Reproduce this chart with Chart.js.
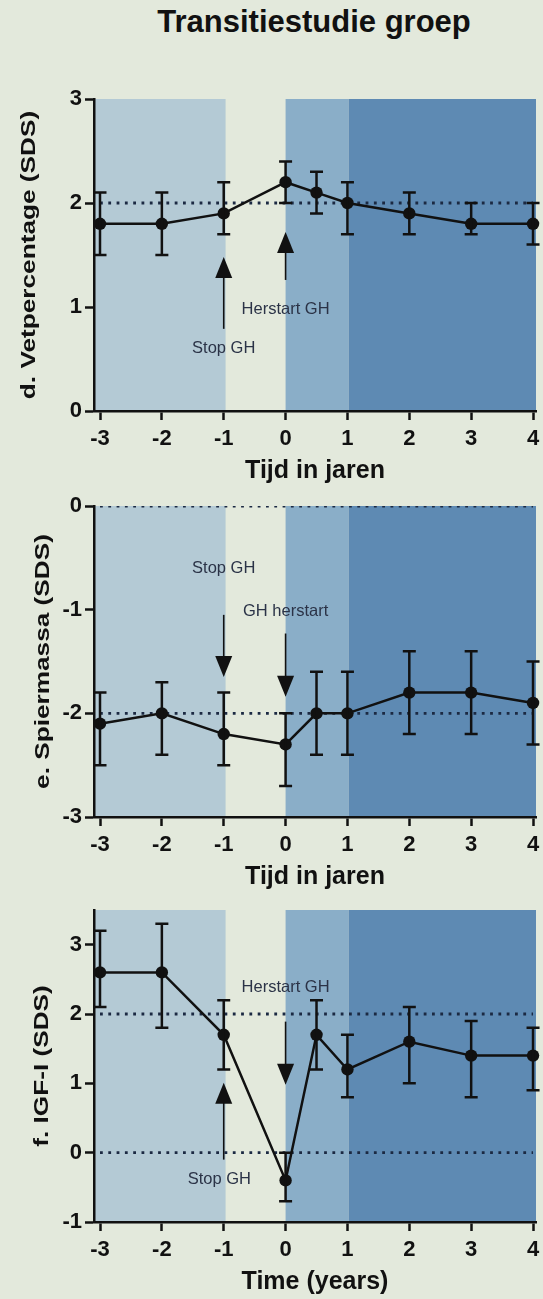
<!DOCTYPE html>
<html>
<head>
<meta charset="utf-8">
<title>Transitiestudie groep</title>
<script src="https://cdn.jsdelivr.net/npm/chart.js@4.4.1/dist/chart.umd.min.js"></script>
<style>
  html, body { margin: 0; padding: 0; background: #e3e9dc; }
  body { width: 543px; height: 1299px; position: relative; overflow: hidden; font-family: 'Liberation Sans', Arial, sans-serif; }
  #title { position: absolute; left: 0; top: 6px; width: 628px; text-align: center; font-size: 31px; line-height: 31px; font-weight: bold; color: #111; }
  canvas { position: absolute; left: 0; }
</style>
</head>
<body>
<div id="title">Transitiestudie groep</div>
<canvas id="fat" width="543" height="430" style="top:60px"></canvas>
<canvas id="muscle" width="543" height="400" style="top:490px"></canvas>
<canvas id="igf" width="543" height="409" style="top:890px"></canvas>
<script>
// time points (years) and x tick labels
var years = [-3, -2, -1, 0, 0.5, 1, 2, 3, 4];
var yearTicks = [-3, -2, -1, 0, 1, 2, 3, 4];

// phases: before stop, off GH, restart year, after
var phaseFrom = [-3.5, 0, 1.02];
var phaseTo = [-0.97, 1.02, 4.5];

// d. Vetpercentage
var fatMean = [1.8, 1.8, 1.9, 2.2, 2.1, 2.0, 1.9, 1.8, 1.8];
var fatLow = [1.5, 1.5, 1.7, 2.0, 1.9, 1.7, 1.7, 1.7, 1.6];
var fatHigh = [2.1, 2.1, 2.2, 2.4, 2.3, 2.2, 2.1, 2.0, 2.0];
var fatTicks = [0, 1, 2, 3];
var fatRef = [2];

// e. Spiermassa
var muscleMean = [-2.1, -2.0, -2.2, -2.3, -2.0, -2.0, -1.8, -1.8, -1.9];
var muscleLow = [-2.5, -2.4, -2.5, -2.7, -2.4, -2.4, -2.2, -2.2, -2.3];
var muscleHigh = [-1.8, -1.7, -1.8, -2.0, -1.6, -1.6, -1.4, -1.4, -1.5];
var muscleTicks = [-3, -2, -1, 0];
var muscleRef = [0, -2];

// f. IGF-I
var igfMean = [2.6, 2.6, 1.7, -0.4, 1.7, 1.2, 1.6, 1.4, 1.4];
var igfLow = [2.1, 1.8, 1.2, -0.7, 1.2, 0.8, 1.0, 0.8, 0.9];
var igfHigh = [3.2, 3.3, 2.2, 0.0, 2.2, 1.7, 2.1, 1.9, 1.8];
var igfTicks = [-1, 0, 1, 2, 3];
var igfRef = [2, 0];

// arrows and their labels, in data units
var fatArrows = [{x: -1, from: 0.79, to: 1.48}, {x: 0, from: 1.26, to: 1.72}];
var fatNotes = [{text: 'Stop GH', x: -1, y: 0.60}, {text: 'Herstart GH', x: 0, y: 0.98}];
var muscleArrows = [{x: -1, from: -1.05, to: -1.65}, {x: 0, from: -1.23, to: -1.84}];
var muscleNotes = [{text: 'Stop GH', x: -1, y: -0.60}, {text: 'GH herstart', x: 0, y: -1.02}];
var igfArrows = [{x: -1, from: -0.10, to: 1.01}, {x: 0, from: 1.89, to: 0.98}];
var igfNotes = [{text: 'Herstart GH', x: 0, y: 2.39}, {text: 'Stop GH', x: -1.07, y: -0.38}];

var FONT = "'Liberation Sans', Arial, sans-serif";
var INK = '#111111';
var phaseColors = ['#b4cad5', '#8aaec8', '#5e8ab3'];

function panelPlugin(cfg) {
    return {
        id: 'panel_' + cfg.id,
        beforeDraw: function(chart) {
            var ctx = chart.ctx, a = chart.chartArea, xs = chart.scales.x;
            ctx.save();
            for (var i = 0; i < phaseFrom.length; i++) {
                var l = Math.max(a.left, xs.getPixelForValue(phaseFrom[i]));
                var r = Math.min(a.right, xs.getPixelForValue(phaseTo[i]));
                ctx.fillStyle = phaseColors[i];
                ctx.fillRect(l, a.top, r - l, a.bottom - a.top);
            }
            ctx.restore();
        },
        afterDatasetsDraw: function(chart) {
            var ctx = chart.ctx, xs = chart.scales.x, ys = chart.scales.y;
            ctx.save();
            // error bars
            ctx.strokeStyle = INK;
            ctx.lineWidth = 2.5;
            for (var i = 0; i < years.length; i++) {
                var px = xs.getPixelForValue(years[i]);
                var lo = ys.getPixelForValue(cfg.low[i]);
                var hi = ys.getPixelForValue(cfg.high[i]);
                ctx.beginPath();
                ctx.moveTo(px, lo); ctx.lineTo(px, hi);
                ctx.moveTo(px - 6.5, lo); ctx.lineTo(px + 6.5, lo);
                ctx.moveTo(px - 6.5, hi); ctx.lineTo(px + 6.5, hi);
                ctx.stroke();
            }
            // arrows
            cfg.arrows.forEach(function(ar) {
                var px = xs.getPixelForValue(ar.x);
                var p0 = ys.getPixelForValue(ar.from);
                var p1 = ys.getPixelForValue(ar.to);
                var dir = p1 < p0 ? 1 : -1;
                ctx.strokeStyle = INK;
                ctx.fillStyle = INK;
                ctx.lineWidth = 1.6;
                ctx.beginPath();
                ctx.moveTo(px, p0); ctx.lineTo(px, p1 + dir * 10);
                ctx.stroke();
                ctx.beginPath();
                ctx.moveTo(px, p1);
                ctx.lineTo(px - 8.5, p1 + dir * 21);
                ctx.lineTo(px + 8.5, p1 + dir * 21);
                ctx.closePath();
                ctx.fill();
            });
            // arrow labels
            ctx.fillStyle = '#2b3347';
            ctx.font = '16.5px ' + FONT;
            ctx.textAlign = 'center';
            ctx.textBaseline = 'middle';
            cfg.notes.forEach(function(n) {
                ctx.fillText(n.text, xs.getPixelForValue(n.x), ys.getPixelForValue(n.y));
            });
            ctx.restore();
        },
        afterDraw: function(chart) {
            var ctx = chart.ctx, a = chart.chartArea;
            ctx.save();
            ctx.fillStyle = INK;
            ctx.textAlign = 'center';
            ctx.textBaseline = 'middle';
            ctx.font = 'bold 25px ' + FONT;
            ctx.fillText(cfg.xTitle, (a.left + a.right) / 2, a.bottom + 60);
            ctx.translate(cfg.yTitleX, (a.top + a.bottom) / 2);
            ctx.rotate(-Math.PI / 2);
            ctx.scale(1.31, 1);
            ctx.font = 'bold 20px ' + FONT;
            ctx.fillText(cfg.yTitle, 0, 1);
            ctx.restore();
        }
    };
}

function makePanel(cfg) {
    var canvas = document.getElementById(cfg.id);
    var ctx = canvas.getContext('2d');
    var tickFont = {family: FONT, size: 22, weight: 'bold', lineHeight: 1};

    var datasets = [{
        data: years.map(function(x, i) { return {x: x, y: cfg.mean[i]}; }),
        showLine: true,
        clip: false,
        borderColor: INK,
        borderWidth: 2.5,
        pointRadius: 6.2,
        pointBorderWidth: 0,
        pointBackgroundColor: INK,
        order: 0
    }];
    cfg.ref.forEach(function(v) {
        datasets.push({
            data: [{x: -3, y: v}, {x: 4, y: v}],
            showLine: true,
            borderColor: '#1b2942',
            borderWidth: 2.8,
            borderDash: [2.8, 5.5],
            pointRadius: 0,
            order: 1
        });
    });

    return new Chart(ctx, {
        type: 'scatter',
        data: {datasets: datasets},
        options: {
            responsive: false,
            animation: false,
            devicePixelRatio: 1,
            layout: {padding: {top: cfg.top, right: 7, left: 0, bottom: 0}},
            plugins: {legend: {display: false}, tooltip: {enabled: false}},
            scales: {
                x: {
                    type: 'linear',
                    min: -3.097,
                    max: 4.048,
                    afterBuildTicks: function(s) { s.ticks = yearTicks.map(function(v) { return {value: v}; }); },
                    afterFit: function(s) {
                        s.height = cfg.xHeight;
                        s.paddingLeft = 0;
                        s.paddingRight = 0;
                    },
                    grid: {drawOnChartArea: false, drawTicks: true, tickLength: 9, tickWidth: 2.5, tickColor: INK, color: INK},
                    border: {display: true, color: INK, width: 2.5},
                    ticks: {font: tickFont, color: INK, padding: 8, maxRotation: 0, callback: function(v) { return String(v); }}
                },
                y: {
                    type: 'linear',
                    min: cfg.yMin,
                    max: cfg.yMax,
                    afterBuildTicks: function(s) { s.ticks = cfg.yTicks.map(function(v) { return {value: v}; }); },
                    afterFit: function(s) {
                        s.width = 94;
                        s.paddingTop = 0;
                        s.paddingBottom = 0;
                    },
                    grid: {drawOnChartArea: false, drawTicks: true, tickLength: 9, tickWidth: 2.5, tickColor: INK, color: INK},
                    border: {display: true, color: INK, width: 2.5},
                    ticks: {font: tickFont, color: INK, padding: 3, callback: function(v) { return String(v); }}
                }
            }
        },
        plugins: [panelPlugin(cfg)]
    });
}

makePanel({
    id: 'fat', mean: fatMean, low: fatLow, high: fatHigh, ref: fatRef,
    yMin: 0, yMax: 3, yTicks: fatTicks, top: 39, xHeight: 79,
    arrows: fatArrows, notes: fatNotes,
    xTitle: 'Tijd in jaren', yTitle: 'd. Vetpercentage (SDS)', yTitleX: 28
});
makePanel({
    id: 'muscle', mean: muscleMean, low: muscleLow, high: muscleHigh, ref: muscleRef,
    yMin: -3, yMax: 0, yTicks: muscleTicks, top: 16, xHeight: 73,
    arrows: muscleArrows, notes: muscleNotes,
    xTitle: 'Tijd in jaren', yTitle: 'e. Spiermassa (SDS)', yTitleX: 42
});
makePanel({
    id: 'igf', mean: igfMean, low: igfLow, high: igfHigh, ref: igfRef,
    yMin: -1, yMax: 3.5, yTicks: igfTicks, top: 20, xHeight: 77,
    arrows: igfArrows, notes: igfNotes,
    xTitle: 'Time (years)', yTitle: 'f. IGF-I (SDS)', yTitleX: 41.5
});
</script>
</body>
</html>
